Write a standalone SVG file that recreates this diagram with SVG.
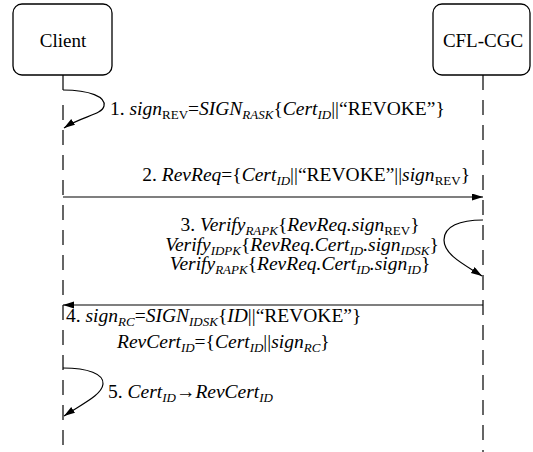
<svg xmlns="http://www.w3.org/2000/svg" width="533" height="452" viewBox="0 0 533 452">
  <style>
    .box { fill: #fff; stroke: #000; stroke-width: 1.3; }
    .life { fill: none; stroke: #000; stroke-width: 1.2; }
    .dash { stroke-dasharray: 15 10; }
    .msg { fill: none; stroke: #000; stroke-width: 1.2; marker-end: url(#arrow); }
    text { font-family: 'Liberation Serif', 'Times New Roman', serif; font-size: 19.5px; fill: #000; }
    .name { font-size: 19px; }
    .i { font-style: italic; }
    .s { font-size: 13px; }
  </style>
  <defs>
    <marker id="arrow" markerUnits="userSpaceOnUse" markerWidth="12" markerHeight="8" refX="11" refY="3.5" orient="auto">
      <path d="M0,0 L11,3.5 L0,7 z" fill="#000"/>
    </marker>
  </defs>

  <!-- participants -->
  <g id="client">
    <rect class="box" x="13" y="4" width="99" height="71" rx="9"/>
    <text class="name" x="63" y="47" text-anchor="middle">Client</text>
    <line class="life" x1="63" y1="75" x2="63" y2="90"/>
    <line class="life dash" x1="63" y1="105" x2="63" y2="452"/>
  </g>
  <g id="cgc">
    <rect class="box" x="433" y="4" width="97" height="71" rx="9"/>
    <text class="name" x="483" y="47" text-anchor="middle">CFL-CGC</text>
    <line class="life dash" x1="483" y1="75" x2="483" y2="452"/>
  </g>

  <!-- messages -->
  <g id="connectors">
    <path class="msg" d="M63,90 C90,90 106,97 104,106 C102,115 82,116 64,128"/>
    <line class="msg" x1="63" y1="197" x2="483" y2="197"/>
    <path class="msg" d="M483,220 C460,220 444,226 444,240 C444,255 465,265 482,276"/>
    <line class="msg" x1="483" y1="305" x2="63" y2="305"/>
    <path class="msg" d="M63,368 C88,368 104,374 103,384 C102,395 82,404 64,416"/>
  </g>

  <!-- message labels -->
  <g id="labels">
    <text x="110" y="115">1. <tspan class="i">sign</tspan><tspan class="s" dy="4">REV</tspan><tspan dy="-4">=</tspan><tspan class="i">SIGN</tspan><tspan class="i s" dy="4">RASK</tspan><tspan dy="-4">{</tspan><tspan class="i">Cert</tspan><tspan class="i s" dy="4">ID</tspan><tspan dy="-4">||“REVOKE”}</tspan></text>

    <text x="470" y="181" text-anchor="end">2. <tspan class="i">RevReq</tspan>={<tspan class="i">Cert</tspan><tspan class="i s" dy="4">ID</tspan><tspan dy="-4">||“REVOKE”||</tspan><tspan class="i">sign</tspan><tspan class="s" dy="4">REV</tspan><tspan dy="-4">}</tspan></text>

    <text x="300" y="231" text-anchor="middle">3. <tspan class="i">Verify</tspan><tspan class="i s" dy="4">RAPK</tspan><tspan dy="-4">{</tspan><tspan class="i">RevReq.sign</tspan><tspan class="s" dy="4">REV</tspan><tspan dy="-4">}</tspan></text>
    <text x="302" y="251" text-anchor="middle"><tspan class="i">Verify</tspan><tspan class="i s" dy="4">IDPK</tspan><tspan dy="-4">{</tspan><tspan class="i">RevReq.Cert</tspan><tspan class="i s" dy="4">ID</tspan><tspan class="i" dy="-4">.sign</tspan><tspan class="i s" dy="4">IDSK</tspan><tspan dy="-4">}</tspan></text>
    <text x="300" y="270" text-anchor="middle"><tspan class="i">Verify</tspan><tspan class="i s" dy="4">RAPK</tspan><tspan dy="-4">{</tspan><tspan class="i">RevReq.Cert</tspan><tspan class="i s" dy="4">ID</tspan><tspan class="i" dy="-4">.sign</tspan><tspan class="i s" dy="4">ID</tspan><tspan dy="-4">}</tspan></text>

    <text x="66" y="322">4. <tspan class="i">sign</tspan><tspan class="i s" dy="4">RC</tspan><tspan dy="-4">=</tspan><tspan class="i">SIGN</tspan><tspan class="i s" dy="4">IDSK</tspan><tspan dy="-4">{</tspan><tspan class="i">ID</tspan>||“REVOKE”}</text>
    <text x="117" y="348"><tspan class="i">RevCert</tspan><tspan class="i s" dy="4">ID</tspan><tspan dy="-4">={</tspan><tspan class="i">Cert</tspan><tspan class="i s" dy="4">ID</tspan><tspan dy="-4">||</tspan><tspan class="i">sign</tspan><tspan class="i s" dy="4">RC</tspan><tspan dy="-4">}</tspan></text>

    <text x="108" y="398">5. <tspan class="i">Cert</tspan><tspan class="i s" dy="4">ID</tspan><tspan dy="-4">→</tspan><tspan class="i">RevCert</tspan><tspan class="i s" dy="4">ID</tspan></text>
  </g>
</svg>
